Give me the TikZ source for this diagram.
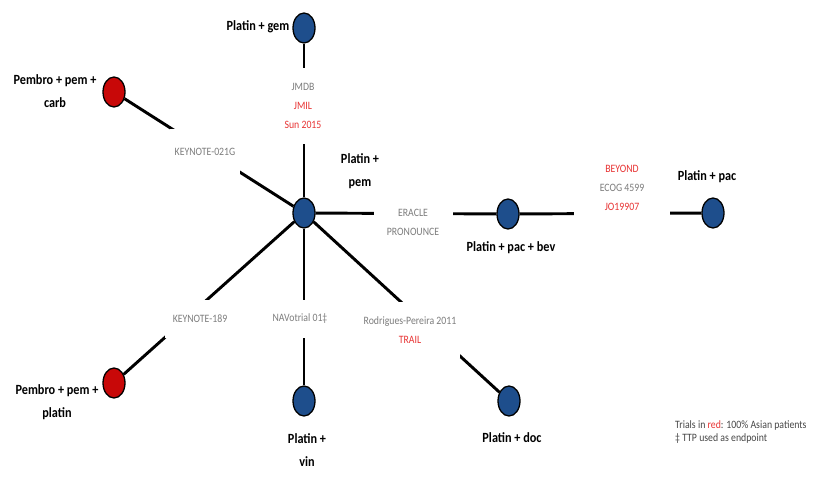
\documentclass[tikz,border=0pt]{standalone}
\usepackage{fontspec}
\setmainfont{Carlito}[FakeStretch=0.87]
\usetikzlibrary{shapes.geometric}

\definecolor{armblue}{RGB}{30,78,140}
\definecolor{armred}{RGB}{200,8,8}
\definecolor{asianred}{RGB}{232,52,52}
\definecolor{trialgray}{RGB}{125,125,125}
\definecolor{notegray}{RGB}{70,70,70}

\tikzset{
  arm/.style={ellipse, draw=black, line width=1.1pt, fill=armblue,
    minimum width=0.66cm, minimum height=0.9cm, inner sep=0pt},
  armpem/.style={arm, fill=armred},
  link/.style={line width=2.5pt, black},
  armlabel/.style={font=\bfseries\fontsize{12}{20}\selectfont, align=center, inner sep=0pt},
  trial/.style={fill=white, text=trialgray, align=center, inner sep=0pt,
    font=\fontsize{9.6}{16.4}\selectfont},
}

\begin{document}
\begin{tikzpicture}[x=0.03cm, y=-0.03cm]
  \useasboundingbox (0,0) rectangle (814,478);

  % treatment arms
  \node[arm]    (hub)    at (304,213) {};
  \node[arm]    (gem)    at (304,28)  {};
  \node[armpem] (carb)   at (114,92)  {};
  \node[arm]    (bev)    at (508,214) {};
  \node[arm]    (pac)    at (713,213) {};
  \node[armpem] (platin) at (114,383) {};
  \node[arm]    (vin)    at (304,401) {};
  \node[arm]    (doc)    at (509,401) {};

  % comparisons
  \draw[link] (hub) -- (gem);
  \draw[link] (hub) -- (carb);
  \draw[link] (hub) -- (bev);
  \draw[link] (bev) -- (pac);
  \draw[link] (hub) -- (platin);
  \draw[link] (hub) -- (vin);
  \draw[link] (hub) -- (doc);

  % trials on each comparison
  \node[trial, minimum width=1.6cm, minimum height=2.28cm] (tgem) at (303,106)
    {JMDB\\\textcolor{asianred}{JMIL}\\\textcolor{asianred}{Sun 2015}};
  \node[trial, minimum width=2.1cm, minimum height=1.35cm] (tcarb) at (205,152)
    {KEYNOTE-021G};
  \node[trial, minimum width=2.37cm, minimum height=1.3cm] (tbev) at (413,222)
    {ERACLE\\PRONOUNCE};
  \node[trial, minimum width=2.88cm, minimum height=1.74cm] (tpac) at (622,188)
    {\textcolor{asianred}{BEYOND}\\ECOG 4599\\\textcolor{asianred}{JO19907}};
  \node[trial, minimum width=2.1cm, minimum height=1.14cm] (tplatin) at (200,319)
    {KEYNOTE-189};
  \node[trial, minimum width=1.86cm, minimum height=1.14cm] (tvin) at (300,319)
    {NAVotrial 01‡};
  \node[trial, minimum width=3.0cm, minimum height=1.68cm] (tdoc) at (410,330)
    {Rodrigues-Pereira 2011\\\textcolor{asianred}{TRAIL}};

  % arm names
  \node[armlabel] (lgem)    at (258,27)  {Platin + gem};
  \node[armlabel] (lcarb)   at (55,91)   {Pembro + pem +\\carb};
  \node[armlabel] (lhub)    at (360,171) {Platin +\\pem};
  \node[armlabel] (lbev)    at (511,248) {Platin + pac + bev};
  \node[armlabel] (lpac)    at (707,177) {Platin + pac};
  \node[armlabel] (lplatin) at (57,402)  {Pembro + pem +\\platin};
  \node[armlabel] (lvin)    at (307,450) {Platin +\\vin};
  \node[armlabel] (ldoc)    at (512,438) {Platin + doc};

  % key
  \node[anchor=west, align=left, inner sep=0pt, text=notegray,
        font=\fontsize{9.6}{10.6}\selectfont] (key) at (675,432)
    {Trials in \textcolor{asianred}{red}: 100\% Asian patients\\‡ TTP used as endpoint};
\end{tikzpicture}
\end{document}
